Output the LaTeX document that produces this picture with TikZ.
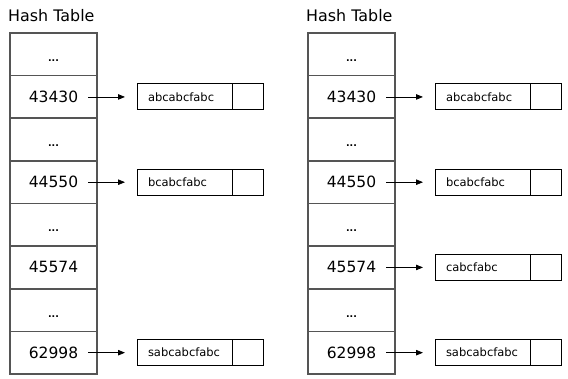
\documentclass[tikz,border=0pt]{standalone}
\usepackage{fontspec}
\setmainfont{DejaVu Sans}
\usetikzlibrary{arrows.meta,calc}
\definecolor{tablegray}{RGB}{85,85,85}
\begin{document}
\begin{tikzpicture}[x=1pt,y=-1pt,
 cell/.style={draw=tablegray, line width=1.6pt, minimum width=87pt, minimum height=42.625pt, inner sep=0pt, outer sep=0pt},
 num/.style={font=\fontsize{15.5}{18}\selectfont, inner sep=0pt, anchor=base},
 dots/.style={font=\bfseries\fontsize{9.5}{11}\selectfont, inner sep=0pt, anchor=base},
 title/.style={font=\fontsize{15.9}{18}\selectfont, inner sep=0pt, anchor=base west},
 keybox/.style={draw=black, line width=0.9pt, minimum width=95pt, minimum height=26pt, text width=73pt, inner xsep=11pt, inner ysep=0pt, align=left, font=\fontsize{11.5}{13}\selectfont, anchor=west, outer sep=0pt},
 ptrbox/.style={draw=black, line width=0.9pt, minimum width=31pt, minimum height=26pt, anchor=west, inner sep=0pt, outer sep=0pt},
 arr/.style={-{Triangle[length=7pt,width=5.5pt]}, line width=0.8pt, shorten <=10pt, shorten >=12pt}]
\useasboundingbox (0,0) rectangle (568,378);
\foreach \t/\ox in {L/0,R/298}{
  \node[title] (\t title) at (8+\ox, 21.7) {Hash Table};
  \foreach \i in {0,...,7}{
    \node[cell] (\t c\i) at (53.5+\ox, {33+42.625*(\i+0.5)}) {};
  }
  \foreach \i in {0,2,4,6}{
    \node[dots] (\t d\i) at ($(\t c\i.center)+(0,7)$) {...};
  }
  \foreach \i/\v in {1/43430,3/44550,5/45574,7/62998}{
    \node[num] (\t n\i) at ($(\t c\i.center)+(0,5.5)$) {\v};
  }
}
\foreach \i/\s in {1/abcabcfabc,3/bcabcfabc,7/sabcabcfabc}{
  \node[keybox] (Lk\i) at (137, {33+42.625*(\i+0.5)}) {\s};
  \node[ptrbox] (Lp\i) at (Lk\i.east) {};
  \draw[arr] (Ln\i.east |- Lk\i.west) -- (Lk\i.west);
}
\foreach \i/\s in {1/abcabcfabc,3/bcabcfabc,5/cabcfabc,7/sabcabcfabc}{
  \node[keybox] (Rk\i) at (435, {33+42.625*(\i+0.5)}) {\s};
  \node[ptrbox] (Rp\i) at (Rk\i.east) {};
  \draw[arr] (Rn\i.east |- Rk\i.west) -- (Rk\i.west);
}
\end{tikzpicture}
\end{document}
